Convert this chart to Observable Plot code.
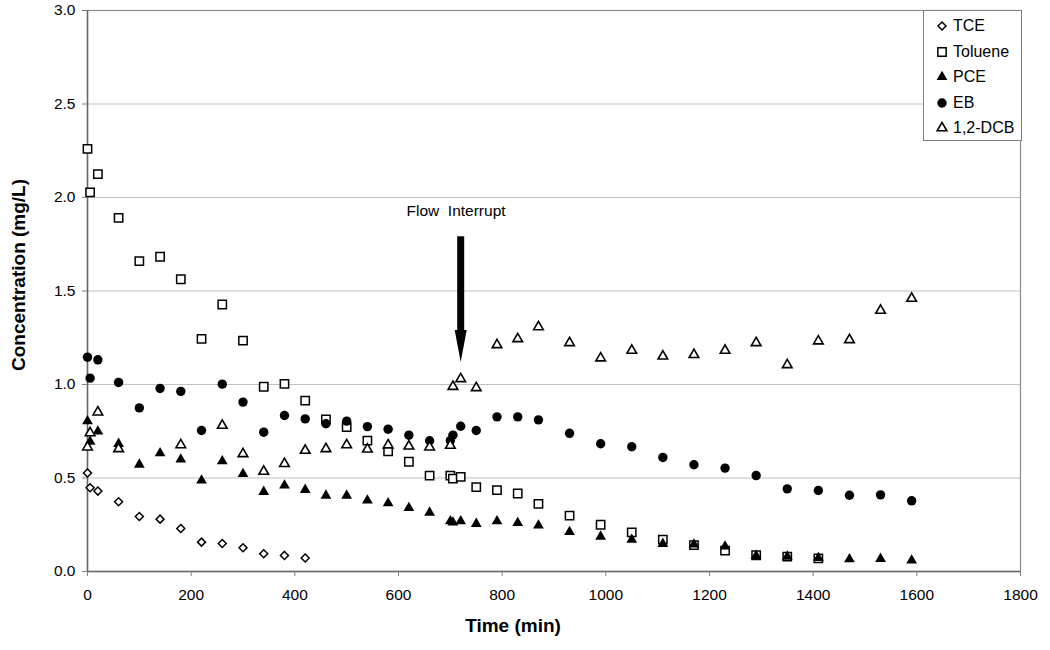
<!DOCTYPE html>
<html><head><meta charset="utf-8">
<script src="https://cdn.jsdelivr.net/npm/d3@7"></script>
<script src="https://cdn.jsdelivr.net/npm/@observablehq/plot@0.6"></script>
<style>
body{margin:0;background:#fff;font-family:"Liberation Sans",Arial,sans-serif;}
#wrap{position:relative;width:1050px;height:650px;}
#legend{position:absolute;left:923px;top:10px;width:99px;height:131px;border:1px solid #808080;background:#fff;box-sizing:border-box;}
.row{position:absolute;left:0;height:20px;display:flex;align-items:center;font-size:16px;color:#000;white-space:nowrap;}
.row svg{margin-left:11px;margin-right:4px;}
</style></head><body><div id="wrap"></div>
<script>
// ---- data ----
const seriesNames = ["TCE", "Toluene", "PCE", "EB", "1,2-DCB"];

const tceTime = [0,5,20,60,100,140,180,220,260,300,340,380,420];
const tceConc = [0.527,0.448,0.43,0.373,0.294,0.28,0.23,0.157,0.15,0.127,0.095,0.086,0.072];

const tolTime = [0,5,20,60,100,140,180,220,260,300,340,380,420,460,500,540,580,620,660,700,705,720,750,790,830,870,930,990,1050,1110,1170,1230,1290,1350,1410];
const tolConc = [2.26,2.027,2.125,1.891,1.66,1.683,1.563,1.244,1.428,1.235,0.988,1.003,0.914,0.813,0.772,0.70,0.642,0.587,0.513,0.513,0.497,0.506,0.451,0.435,0.417,0.362,0.299,0.25,0.209,0.17,0.141,0.112,0.087,0.08,0.07];

const pceTime = [0,5,20,60,100,140,180,220,260,300,340,380,420,460,500,540,580,620,660,700,705,720,750,790,830,870,930,990,1050,1110,1170,1230,1290,1350,1410,1470,1530,1590];
const pceConc = [0.804,0.695,0.749,0.683,0.572,0.633,0.599,0.487,0.59,0.522,0.426,0.46,0.437,0.406,0.406,0.38,0.365,0.34,0.315,0.269,0.262,0.269,0.255,0.269,0.26,0.246,0.212,0.187,0.17,0.148,0.145,0.134,0.084,0.08,0.073,0.066,0.068,0.059];

const ebTime = [0,5,20,60,100,140,180,220,260,300,340,380,420,460,500,540,580,620,660,700,705,720,750,790,830,870,930,990,1050,1110,1170,1230,1290,1350,1410,1470,1530,1590];
const ebConc = [1.146,1.034,1.132,1.011,0.875,0.979,0.963,0.754,1.002,0.906,0.745,0.834,0.816,0.79,0.804,0.775,0.761,0.729,0.699,0.70,0.729,0.777,0.754,0.827,0.827,0.811,0.739,0.683,0.667,0.61,0.571,0.553,0.513,0.442,0.433,0.408,0.41,0.378];

const dcbTime = [0,5,20,60,180,260,300,340,380,420,460,500,540,580,620,660,700,705,720,750,790,830,870,930,990,1050,1110,1170,1230,1290,1350,1410,1470,1530,1590];
const dcbConc = [0.665,0.741,0.852,0.656,0.677,0.781,0.629,0.535,0.576,0.647,0.656,0.677,0.654,0.676,0.67,0.665,0.674,0.989,1.03,0.982,1.212,1.244,1.308,1.223,1.141,1.182,1.151,1.159,1.182,1.223,1.105,1.232,1.239,1.396,1.46];

const xTicks = [0,200,400,600,800,1000,1200,1400,1600,1800];
const yTicks = [0,0.5,1.0,1.5,2.0,2.5,3.0];
const gridTicks = [0.5,1.0,1.5,2.0,2.5];

const annotationText = "Flow  Interrupt";
const annotationTime = 711;
const annotationConc = 1.93;
const arrowTime = 720;
const arrowTop = 1.79;
const arrowShaftEnd = 1.25;
const arrowTip = 1.12;

// ---- helpers ----
const pts = (t, c) => t.map((x, i) => ({x, y: c[i]}));
const arrowHead = {draw(ctx) { ctx.moveTo(0, 0); ctx.lineTo(-6, -32); ctx.lineTo(6, -32); ctx.closePath(); }};

const styles = {
  "TCE": {symbol: "diamond2", r: 3.6, fill: "white", stroke: "black", strokeWidth: 1.5},
  "Toluene": {symbol: "square2", r: 5.3, fill: "white", stroke: "black", strokeWidth: 1.5},
  "PCE": {symbol: "triangle", r: 4.0, fill: "black"},
  "EB": {symbol: "circle", r: 4.7, fill: "black"},
  "1,2-DCB": {symbol: "triangle2", r: 4.6, fill: "white", stroke: "black", strokeWidth: 1.6}
};
const seriesData = {
  "TCE": pts(tceTime, tceConc),
  "Toluene": pts(tolTime, tolConc),
  "PCE": pts(pceTime, pceConc),
  "EB": pts(ebTime, ebConc),
  "1,2-DCB": pts(dcbTime, dcbConc)
};

const chart = Plot.plot({
  width: 1050,
  height: 650,
  marginLeft: 87,
  marginRight: 30,
  marginTop: 10,
  marginBottom: 79,
  style: {fontFamily: "'Liberation Sans', Arial, sans-serif", fontSize: "15px", background: "white", color: "black"},
  x: {domain: [0, 1800]},
  y: {domain: [0, 3]},
  marks: [
    Plot.ruleY(gridTicks, {stroke: "#c0c0c0", strokeWidth: 1}),
    Plot.frame({stroke: "#8a8a8a", strokeWidth: 1.2}),
    Plot.ruleX([0], {stroke: "#666", strokeWidth: 1.5}),
    Plot.ruleY([0], {stroke: "#666", strokeWidth: 1.5}),
    ...seriesNames.map(n => Plot.dot(seriesData[n], {x: "x", y: "y", ...styles[n]})),
    Plot.ruleX([{x: arrowTime, y1: arrowTop, y2: arrowShaftEnd}], {x: "x", y1: "y1", y2: "y2", stroke: "black", strokeWidth: 7}),
    Plot.dot([{x: arrowTime, y: arrowTip}], {x: "x", y: "y", symbol: arrowHead, fill: "black", r: 1}),
    Plot.text([{x: annotationTime, y: annotationConc, t: annotationText}], {x: "x", y: "y", text: "t", fontSize: 15.5, fill: "black", textAnchor: "middle"}),
    Plot.axisX({ticks: xTicks, tickFormat: d3.format("d"), tickSize: 5, tickPadding: 12, fontSize: 15.5, label: null, stroke: "#808080", fill: "black"}),
    Plot.axisY({ticks: yTicks, tickFormat: d3.format(".1f"), tickSize: 5, tickPadding: 7, fontSize: 15.5, label: null, stroke: "#808080", fill: "black"}),
    Plot.text(["Time (min)"], {frameAnchor: "bottom", textAnchor: "middle", lineAnchor: "middle", dx: -41, dy: 54, fontSize: 19, fontWeight: "bold", fill: "black"}),
    Plot.text(["Concentration (mg/L)"], {frameAnchor: "left", textAnchor: "middle", lineAnchor: "middle", rotate: -90, dx: -69, dy: -16, fontSize: 19, fontWeight: "bold", fill: "black"})
  ]
});

const wrap = document.getElementById("wrap");
wrap.appendChild(chart);

// ---- legend (overlay) ----
const legend = document.createElement("div");
legend.id = "legend";
const symbolTypes = {diamond2: d3.symbolDiamond2, square2: d3.symbolSquare2, triangle: d3.symbolTriangle, circle: d3.symbolCircle, triangle2: d3.symbolTriangle2};
seriesNames.forEach((n, i) => {
  const s = styles[n];
  const row = document.createElement("div");
  row.className = "row";
  row.style.top = (5 + i * 25.5) + "px";
  const path = d3.symbol(symbolTypes[s.symbol], Math.PI * s.r * s.r)();
  row.innerHTML = `<svg width="14" height="14" viewBox="-7 -7 14 14"><path d="${path}" fill="${s.fill}" stroke="${s.stroke || "none"}" stroke-width="${s.strokeWidth || 0}"/></svg><span>${n}</span>`;
  legend.appendChild(row);
});
wrap.appendChild(legend);
</script>
</body></html>
